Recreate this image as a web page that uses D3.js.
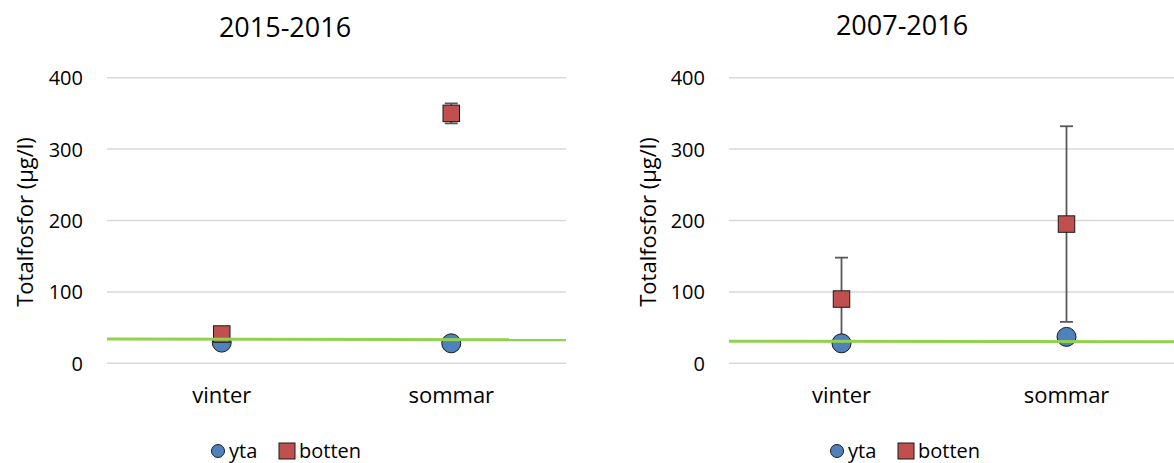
<!DOCTYPE html>
<html>
<head>
<meta charset="utf-8">
<script src="https://cdn.jsdelivr.net/npm/d3@7"></script>
<style>
  html, body { margin: 0; padding: 0; background: #fff; }
  svg { display: block; font-family: "Open Sans", "Noto Sans", sans-serif; }
</style>
</head>
<body>
<svg id="chart" width="1174" height="463"></svg>
<script>
// Total phosphorus, surface (yta) and bottom (botten) water, winter and summer
const categories = ["vinter", "sommar"];
const yTicks = [0, 100, 200, 300, 400];
const seriesNames = ["yta", "botten"];

// 2015-2016 means and error ranges
const yta1516 = [29, 28];
const ytaErr1516 = [3, 3];
const botten1516 = [41, 350];
const bottenErr1516 = [4, 14];
const ref1516 = [34, 33];

// 2007-2016 means and error ranges
const yta0716 = [28, 37];
const ytaErr0716 = [5, 5];
const botten0716 = [90, 195];
const bottenErr0716 = [58, 137];
const ref0716 = [31, 30];

const svg = d3.select("#chart");
const colYta = "#4F81BD", colBotten = "#C0504D", colRef = "#92D050";
const colGrid = "#D9D9D9", colErr = "#595959", colText = "#000";

function panel(opts) {
  const g = svg.append("g");
  const x = d3.scaleBand().domain(categories).range([opts.x0, opts.x1]);
  const y = d3.scaleLinear().domain([0, 400]).range([363.3, 77.7]);

  // gridlines
  g.selectAll("line.grid").data(yTicks).join("line")
    .attr("x1", opts.x0).attr("x2", opts.x1)
    .attr("y1", d => y(d)).attr("y2", d => y(d))
    .attr("stroke", colGrid).attr("stroke-width", 1.5);

  // y tick labels
  const yAxis = d3.axisLeft(y).tickValues(yTicks).tickSize(0).tickPadding(0);
  const ya = g.append("g").attr("transform", `translate(${opts.x0 - 24},0)`).call(yAxis);
  ya.select(".domain").remove();
  ya.selectAll("text").attr("font-size", 20).attr("fill", colText)
    .attr("font-family", "'Open Sans', sans-serif").attr("dy", "0.35em");

  // x category labels
  const xAxis = d3.axisBottom(x).tickSize(0).tickPadding(0);
  const xa = g.append("g").attr("transform", "translate(0,387)").call(xAxis);
  xa.select(".domain").remove();
  xa.selectAll("text").attr("font-size", 22).attr("fill", colText)
    .attr("font-family", "'Open Sans', sans-serif").attr("dy", "0.71em");

  // chart title
  g.append("text").attr("x", opts.titleX).attr("y", opts.titleY)
    .attr("text-anchor", "middle").attr("font-size", 27).attr("fill", colText)
    .text(opts.title);

  // y axis title
  g.append("text")
    .attr("transform", `translate(${opts.yTitleX},222) rotate(-90)`)
    .attr("text-anchor", "middle").attr("font-size", 22).attr("fill", colText)
    .text("Totalfosfor (µg/l)");

  const cx = d => x(d) + x.bandwidth() / 2;

  // error bars
  function errorBars(vals, errs) {
    const eg = g.append("g").attr("stroke", colErr).attr("stroke-width", 1.8);
    categories.forEach((c, i) => {
      const hi = y(vals[i] + errs[i]), lo = y(vals[i] - errs[i]);
      eg.append("line").attr("x1", cx(c)).attr("x2", cx(c)).attr("y1", hi).attr("y2", lo);
      eg.append("line").attr("x1", cx(c) - 6.5).attr("x2", cx(c) + 6.5).attr("y1", hi).attr("y2", hi);
      eg.append("line").attr("x1", cx(c) - 6.5).attr("x2", cx(c) + 6.5).attr("y1", lo).attr("y2", lo);
    });
  }
  errorBars(opts.yta, opts.ytaErr);
  errorBars(opts.botten, opts.bottenErr);

  // surface markers (circles)
  g.selectAll("circle.yta").data(opts.yta).join("circle")
    .attr("cx", (d, i) => cx(categories[i])).attr("cy", d => y(d)).attr("r", 9.5)
    .attr("fill", colYta).attr("stroke", "#1a1a1a").attr("stroke-width", 1);

  // bottom markers (squares)
  const s = 16.5;
  g.selectAll("rect.botten").data(opts.botten).join("rect")
    .attr("x", (d, i) => cx(categories[i]) - s / 2).attr("y", d => y(d) - s / 2)
    .attr("width", s).attr("height", s)
    .attr("fill", colBotten).attr("stroke", "#1a1a1a").attr("stroke-width", 1);

  // reference line across the plot
  const xl = d3.scaleLinear().domain([0, 1]).range([opts.x0, opts.x1]);
  g.append("path").datum(opts.ref)
    .attr("d", d3.line().x((d, i) => xl(i)).y(d => y(d)))
    .attr("fill", "none").attr("stroke", colRef).attr("stroke-width", 3);

  // legend
  const lg = g.append("g").attr("transform", `translate(${opts.legendX},451)`);
  lg.append("circle").attr("cx", 6).attr("cy", 0).attr("r", 6.5)
    .attr("fill", colYta).attr("stroke", "#1a1a1a").attr("stroke-width", 1);
  lg.append("text").attr("x", 17).attr("y", 7).attr("font-size", 20).attr("fill", colText).text(seriesNames[0]);
  lg.append("rect").attr("x", 67).attr("y", -8).attr("width", 16).attr("height", 16)
    .attr("fill", colBotten).attr("stroke", "#1a1a1a").attr("stroke-width", 1);
  lg.append("text").attr("x", 87).attr("y", 7).attr("font-size", 20).attr("fill", colText).text(seriesNames[1]);
}

panel({
  x0: 107, x1: 566, title: "2015-2016", titleX: 285, titleY: 37, yTitleX: 33,
  yta: yta1516, ytaErr: ytaErr1516, botten: botten1516, bottenErr: bottenErr1516,
  ref: ref1516, legendX: 212
});
panel({
  x0: 729, x1: 1179, title: "2007-2016", titleX: 902, titleY: 35, yTitleX: 656,
  yta: yta0716, ytaErr: ytaErr0716, botten: botten0716, bottenErr: bottenErr0716,
  ref: ref0716, legendX: 831
});
</script>
</body>
</html>
